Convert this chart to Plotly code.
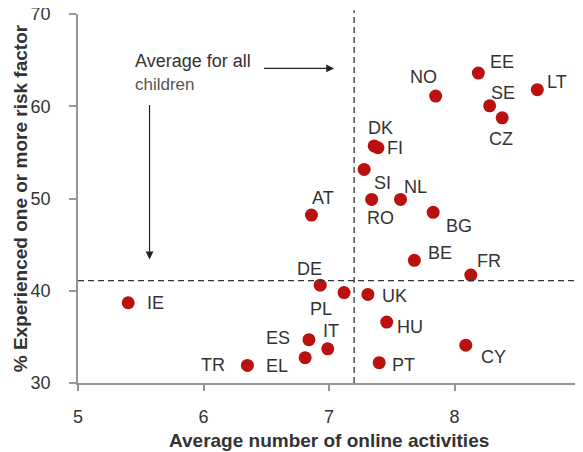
import plotly.graph_objects as go

countries = ["IE", "TR", "EL", "ES", "IT", "DE", "PL", "UK", "HU", "PT", "CY", "BE", "FR",
             "BG", "RO", "NL", "SI", "AT", "DK", "FI", "CZ", "SE", "LT", "EE", "NO"]
activities = [5.40, 6.35, 6.81, 6.84, 6.99, 6.93, 7.12, 7.31, 7.46, 7.40, 8.09, 7.68, 8.13,
              7.83, 7.34, 7.57, 7.28, 6.86, 7.36, 7.39, 8.38, 8.28, 8.66, 8.19, 7.85]
risk = [38.7, 31.9, 32.75, 34.7, 33.7, 40.6, 39.8, 39.6, 36.6, 32.2, 34.1, 43.3, 41.7,
        48.5, 49.9, 49.9, 53.15, 48.2, 55.7, 55.5, 58.75, 60.05, 61.8, 63.6, 61.1]

avg_activities = 7.2
avg_risk = 41.1

x_ticks = [5, 6, 7, 8, 9]
y_ticks = [30, 40, 50, 60, 70]

# label offsets in pixels (x right, y up)
label_offsets = {
    "IE": (27, 0), "TR": (-34, 0), "EL": (-28, -8), "ES": (-31, 2), "IT": (3, 18),
    "DE": (-11, 16), "PL": (-23, -16), "UK": (27, -2), "HU": (23, -5), "PT": (24, -2),
    "CY": (28, -12), "BE": (26, 7), "FR": (18, 14), "BG": (26, -14), "RO": (9, -19),
    "NL": (15, 12), "SI": (18, -14), "AT": (12, 17), "DK": (6, 18), "FI": (17, 0),
    "CZ": (-1, -21), "SE": (13, 13), "LT": (20, 8), "EE": (24, 11), "NO": (-12, 19),
}

FONT = "Arial, 'Liberation Sans', sans-serif"
RED = "#BA1010"
TXT = "#333333"
AXIS = "#959595"

fig = go.Figure()
fig.add_trace(go.Scatter(
    x=activities, y=risk, mode="markers",
    marker=dict(size=13, color=RED, line=dict(width=0)),
    hoverinfo="text", text=countries, showlegend=False,
))

annotations = []
for c, xv, yv in zip(countries, activities, risk):
    dx, dy = label_offsets[c]
    annotations.append(dict(x=xv, y=yv, xref="x", yref="y", text=c, showarrow=False,
                            xshift=dx, yshift=dy, font=dict(family=FONT, size=18, color=TXT)))

# "Average for all children" note
annotations.append(dict(x=5.44, y=63.7, xref="x", yref="y", xanchor="left", yanchor="middle",
                        text="Average for all<br><span style='font-size:17px;color:#555'>children</span>",
                        align="left", showarrow=False,
                        font=dict(family=FONT, size=18, color=TXT)))
# right arrow
annotations.append(dict(x=7.04, y=64.1, ax=6.47, ay=64.1, xref="x", yref="y",
                        axref="x", ayref="y", text="", showarrow=True,
                        arrowhead=2, arrowsize=1.3, arrowwidth=1.2, arrowcolor="#222"))
# down arrow
annotations.append(dict(x=5.57, y=43.4, ax=5.57, ay=60.3, xref="x", yref="y",
                        axref="x", ayref="y", text="", showarrow=True,
                        arrowhead=2, arrowsize=1.3, arrowwidth=1.2, arrowcolor="#222"))

# axis titles
annotations.append(dict(x=0.5, y=-0.156, xref="paper", yref="paper", xanchor="center",
                        yanchor="middle", showarrow=False,
                        text="<b>Average number of online activities</b>",
                        font=dict(family=FONT, size=19, color=TXT)))
annotations.append(dict(x=-0.114, y=0.5, xref="paper", yref="paper", xanchor="center",
                        yanchor="middle", showarrow=False, textangle=-90,
                        text="<b>% Experienced one or more risk factor</b>",
                        font=dict(family=FONT, size=19, color=TXT)))

shapes = [
    dict(type="line", xref="x", yref="paper", x0=avg_activities, x1=avg_activities, y0=0, y1=1.01,
         line=dict(color="#333", width=1.3, dash="6px,4px")),
    dict(type="line", xref="x", yref="y", x0=5, x1=9.05, y0=avg_risk, y1=avg_risk,
         line=dict(color="#333", width=1.3, dash="6px,4px")),
]

# the page body has an 8px margin, so the figure is sized to fit inside it
fig.update_layout(
    width=575, height=444,
    margin=dict(l=70, r=3, t=6, b=69),
    paper_bgcolor="white", plot_bgcolor="white",
    font=dict(family=FONT, size=18, color=TXT),
    annotations=annotations, shapes=shapes,
    xaxis=dict(range=[5, 9], tickvals=x_ticks, showgrid=False, zeroline=False,
               showline=True, linecolor=AXIS, linewidth=1.6, automargin=False,
               ticks="outside", ticklen=6, tickcolor=AXIS, tickwidth=1.5,
               ticklabelstandoff=11, ticklabeloverflow="allow",
               tickfont=dict(family=FONT, size=18, color=TXT)),
    yaxis=dict(range=[30, 70], tickvals=y_ticks, showgrid=False, zeroline=False,
               showline=True, linecolor=AXIS, linewidth=1.6, automargin=False,
               ticks="outside", ticklen=7, tickcolor=AXIS, tickwidth=1.5,
               ticklabelstandoff=15, ticklabeloverflow="allow",
               tickfont=dict(family=FONT, size=18, color=TXT)),
)

fig.write_html("out.html")
